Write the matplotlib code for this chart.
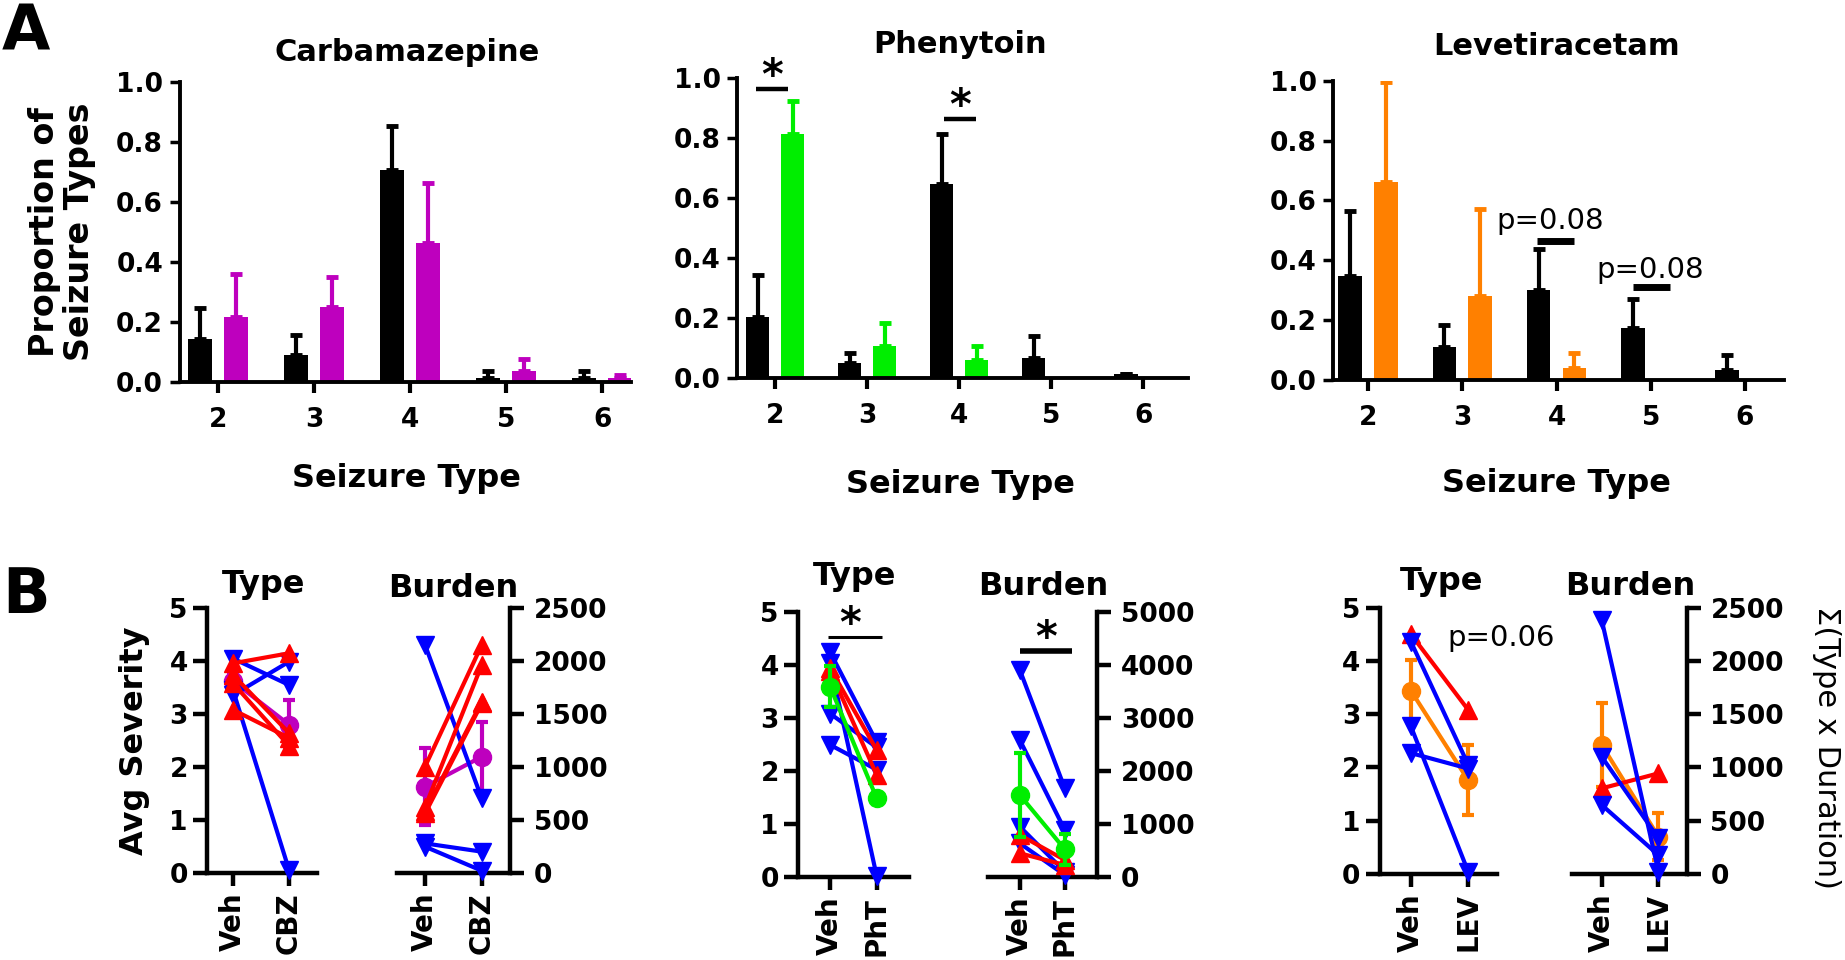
import numpy as np
import matplotlib
matplotlib.use("Agg")
import matplotlib.pyplot as plt

W, H = 1845, 960

# ---- panel A: proportion of seizure types (bar value, top of SEM whisker)
seizure_types = [2, 3, 4, 5, 6]

cbz_veh = [0.141, 0.088, 0.707, 0.013, 0.013]
cbz_veh_top = [0.247, 0.156, 0.855, 0.036, 0.036]
cbz_drug = [0.215, 0.249, 0.462, 0.036, 0.011]
cbz_drug_top = [0.359, 0.351, 0.663, 0.076, 0.022]

pht_veh = [0.203, 0.050, 0.646, 0.069, 0.014]
pht_veh_top = [0.344, 0.085, 0.813, 0.141, 0.014]
pht_drug = [0.813, 0.109, 0.061, 0.0, 0.0]
pht_drug_top = [0.921, 0.185, 0.108, 0.0, 0.0]

lev_veh = [0.349, 0.109, 0.302, 0.175, 0.033]
lev_veh_top = [0.565, 0.184, 0.439, 0.272, 0.084]
lev_drug = [0.663, 0.282, 0.041, 0.0, 0.0]
lev_drug_top = [0.994, 0.570, 0.091, 0.0, 0.0]

# ---- panel B: per-animal Veh -> drug pairs, plus group mean +/- SEM
cbz_type_blue = [[4.05, 3.55], [3.36, 3.99], [3.45, 0.05]]
cbz_type_red = [[3.96, 4.15], [3.74, 2.64], [3.58, 2.40], [3.08, 2.55]]
cbz_type_mean, cbz_type_sem = [3.62, 2.80], [0.13, 0.47]

cbz_burden_blue = [[2153, 703], [277, 199], [246, 19]]
cbz_burden_red = [[1003, 2153], [620, 1964], [580, 1617], [560, 1600]]
cbz_burden_mean, cbz_burden_sem = [813, 1097], [362, 331]

pht_type_blue = [[4.25, 2.55], [4.05, 0.02], [3.09, 2.45], [2.50, 2.03]]
pht_type_red = [[3.95, 2.40], [3.90, 1.93]]
pht_type_mean, pht_type_sem = [3.60, 1.49], [0.38, 0.10]

pht_burden_blue = [[3912, 1679], [2591, 893], [956, 107], [641, 44]]
pht_burden_red = [[799, 327], [453, 233]]
pht_burden_mean, pht_burden_sem = [1553, 528], [790, 290]

lev_type_blue = [[4.36, 2.05], [2.77, 0.04], [2.27, 1.98]]
lev_type_red = [[4.50, 3.08]]
lev_type_mean, lev_type_sem = [3.44, 1.76], [0.58, 0.66]

lev_burden_blue = [[2384, 22], [1101, 335], [648, 178]]
lev_burden_red = [[804, 945]]
lev_burden_mean, lev_burden_sem = [1211, 350], [390, 219]

MAGENTA, GREEN, ORANGE = "#BE00BE", "#00EE00", "#FF8000"
BLUE, RED = "#0000FF", "#FF0000"

fig = plt.figure(figsize=(W / 100, H / 100), dpi=100)


def axes_px(left, top, width, height):
    return fig.add_axes([left / W, 1 - (top + height) / H, width / W, height / H])


def ftext(x, y, s, **kw):
    fig.text(x / W, 1 - y / H, s, **kw)


def bar_panel(ax, veh, veh_top, drug, drug_top, color, xlim):
    x = np.array(seizure_types, float)
    for vals, tops, c, off in ((veh, veh_top, "black", -0.19), (drug, drug_top, color, 0.19)):
        vals, tops = np.array(vals), np.array(tops)
        ax.bar(x + off, vals, width=0.25, color=c, zorder=2)
        m = vals > 0
        ax.errorbar(x[m] + off, vals[m], yerr=[np.zeros(m.sum()), tops[m] - vals[m]],
                    fmt="none", ecolor=c, elinewidth=3, capsize=4.5, capthick=3.5, zorder=1)
    for s in ("top", "right"):
        ax.spines[s].set_visible(False)
    for s in ("left", "bottom"):
        ax.spines[s].set_linewidth(2.8)
    ax.set_ylim(0, 1.0)
    ax.set_yticks(np.arange(0, 1.01, 0.2))
    ax.yaxis.set_major_formatter("{x:.1f}")
    ax.set_xlim(*xlim)
    ax.set_xticks(seizure_types)
    ax.tick_params(axis="y", length=7, width=2.5, labelsize=19, pad=5)
    ax.tick_params(axis="x", length=8, width=3, labelsize=19, pad=10)
    for lab in ax.get_xticklabels() + ax.get_yticklabels():
        lab.set_fontweight("bold")


def pair_panel(ax, blue, red, mean, sem, mcolor, ylim, yticks, xlim, names,
               right=False, mean_on_top=False, red_first=False):
    x = [0, 1]
    zm = 5 if mean_on_top else 2
    ax.errorbar(x, mean, yerr=sem, color=mcolor, marker="o", ms=13, lw=3,
                elinewidth=3, capsize=4, capthick=3, zorder=zm, clip_on=False)
    groups = [(blue, BLUE, "v", 3), (red, RED, "^", 4)]
    if red_first:
        groups = [(blue, BLUE, "v", 4), (red, RED, "^", 3)]
    for rows, c, mk, z in groups:
        for row in rows:
            ax.plot(x, row, color=c, marker=mk, ms=13, lw=3, zorder=z, clip_on=False)
    ax.set_xlim(*xlim)
    ax.set_ylim(*ylim)
    ax.set_yticks(yticks)
    ax.set_xticks(x, names, rotation=90)
    ax.spines["top"].set_visible(False)
    if right:
        ax.spines["left"].set_visible(False)
        ax.yaxis.tick_right()
        ax.spines["right"].set_linewidth(3.2)
        ax.tick_params(axis="y", length=10, width=3.2, labelsize=19, pad=7)
    else:
        ax.spines["right"].set_visible(False)
        ax.spines["left"].set_linewidth(3.2)
        ax.tick_params(axis="y", length=10, width=3.2, labelsize=19, pad=4)
    ax.spines["bottom"].set_linewidth(3.2)
    ax.tick_params(axis="x", length=9, width=3.2, labelsize=20, pad=5)
    for lab in ax.get_xticklabels() + ax.get_yticklabels():
        lab.set_fontweight("bold")


def sig(ax, x0, x1, y, lw, star_x=None):
    ax.plot([x0, x1], [y, y], color="black", lw=lw, solid_capstyle="butt", clip_on=False)
    sx = (x0 + x1) / 2 if star_x is None else star_x
    ax.text(sx, y, "*", ha="center", va="baseline", fontsize=30, fontweight="bold")


# ---------------- panel A
a1 = axes_px(179.7, 82.3, 451.2, 299.4)
bar_panel(a1, cbz_veh, cbz_veh_top, cbz_drug, cbz_drug_top, MAGENTA, (1.6, 6.3))

a2 = axes_px(737.3, 77.7, 450.4, 300.6)
bar_panel(a2, pht_veh, pht_veh_top, pht_drug, pht_drug_top, GREEN, (1.59, 6.48))
sig(a2, 1.79, 2.14, 0.961, 3.2)
sig(a2, 3.835, 4.18, 0.864, 3.2)

a3 = axes_px(1333.3, 80.7, 450.3, 299.3)
bar_panel(a3, lev_veh, lev_veh_top, lev_drug, lev_drug_top, ORANGE, (1.63, 6.41))
for x0, x1, yb, xt, yt in ((3.79, 4.18, 0.465, 3.93, 0.503), (4.81, 5.2, 0.31, 4.99, 0.34)):
    a3.plot([x0, x1], [yb, yb], color="black", lw=5, solid_capstyle="butt")
    a3.text(xt, yt, "p=0.08", ha="center", va="baseline", fontsize=21)

for s, x, y in (("Carbamazepine", 406.7, 61), ("Phenytoin", 960, 53), ("Levetiracetam", 1556.7, 55)):
    ftext(x, y, s, ha="center", va="baseline", fontsize=22, fontweight="bold")
for x, y in ((406.7, 486.7), (960, 493.3), (1556.7, 491.7)):
    ftext(x, y, "Seizure Type", ha="center", va="baseline", fontsize=23, fontweight="bold")
ftext(62, 232, "Proportion of\nSeizure Types", rotation=90, ha="center", va="center",
      fontsize=24, fontweight="bold", linespacing=1.05)
ftext(2, 50, "A", ha="left", va="baseline", fontsize=45, fontweight="bold")

# ---------------- panel B
b1 = axes_px(207.3, 608.3, 109.2, 264.4)
pair_panel(b1, cbz_type_blue, cbz_type_red, cbz_type_mean, cbz_type_sem, MAGENTA,
           (0, 5), range(0, 6), (-0.46, 1.49), ["Veh", "CBZ"])
b2 = axes_px(396.7, 608.3, 113.4, 264.4)
pair_panel(b2, cbz_burden_blue, cbz_burden_red, cbz_burden_mean, cbz_burden_sem, MAGENTA,
           (0, 2500), range(0, 2501, 500), (-0.5, 1.5), ["Veh", "CBZ"], right=True)

b3 = axes_px(798.3, 612.3, 111.1, 265)
pair_panel(b3, pht_type_blue, pht_type_red, pht_type_mean, pht_type_sem, GREEN,
           (0, 5), range(0, 6), (-0.68, 1.70), ["Veh", "PhT"], mean_on_top=True)
sig(b3, -0.04, 1.11, 4.54, 2.2, star_x=0.43)
b4 = axes_px(988.3, 612.3, 108.9, 265)
pair_panel(b4, pht_burden_blue, pht_burden_red, pht_burden_mean, pht_burden_sem, GREEN,
           (0, 5000), range(0, 5001, 1000), (-0.70, 1.72), ["Veh", "PhT"], right=True,
           mean_on_top=True)
sig(b4, 0.0, 1.15, 4275, 4)

b5 = axes_px(1380, 607.7, 116.9, 266.3)
pair_panel(b5, lev_type_blue, lev_type_red, lev_type_mean, lev_type_sem, ORANGE,
           (0, 5), range(0, 6), (-0.54, 1.5), ["Veh", "LEV"], red_first=True)
b5.text(1.57, 4.28, "p=0.06", ha="center", va="baseline", fontsize=21)
b6 = axes_px(1571.7, 607.7, 115.1, 266.3)
pair_panel(b6, lev_burden_blue, lev_burden_red, lev_burden_mean, lev_burden_sem, ORANGE,
           (0, 2500), range(0, 2501, 500), (-0.53, 1.5), ["Veh", "LEV"], right=True,
           red_first=True)

for s, x, y in (("Type", 263.3, 593.3), ("Burden", 453.3, 596.7), ("Type", 855, 585),
                ("Burden", 1043.3, 595), ("Type", 1441.7, 590), ("Burden", 1630, 595)):
    ftext(x, y, s, ha="center", va="baseline", fontsize=23, fontweight="bold")
ftext(134, 741, "Avg Severity", rotation=90, ha="center", va="center", fontsize=23,
      fontweight="bold")
ftext(1827, 747, "\u03a3(Type x Duration)", rotation=-90, ha="center", va="center", fontsize=22)
ftext(2, 613, "B", ha="left", va="baseline", fontsize=45, fontweight="bold")

fig.savefig("out.png", dpi=100)
